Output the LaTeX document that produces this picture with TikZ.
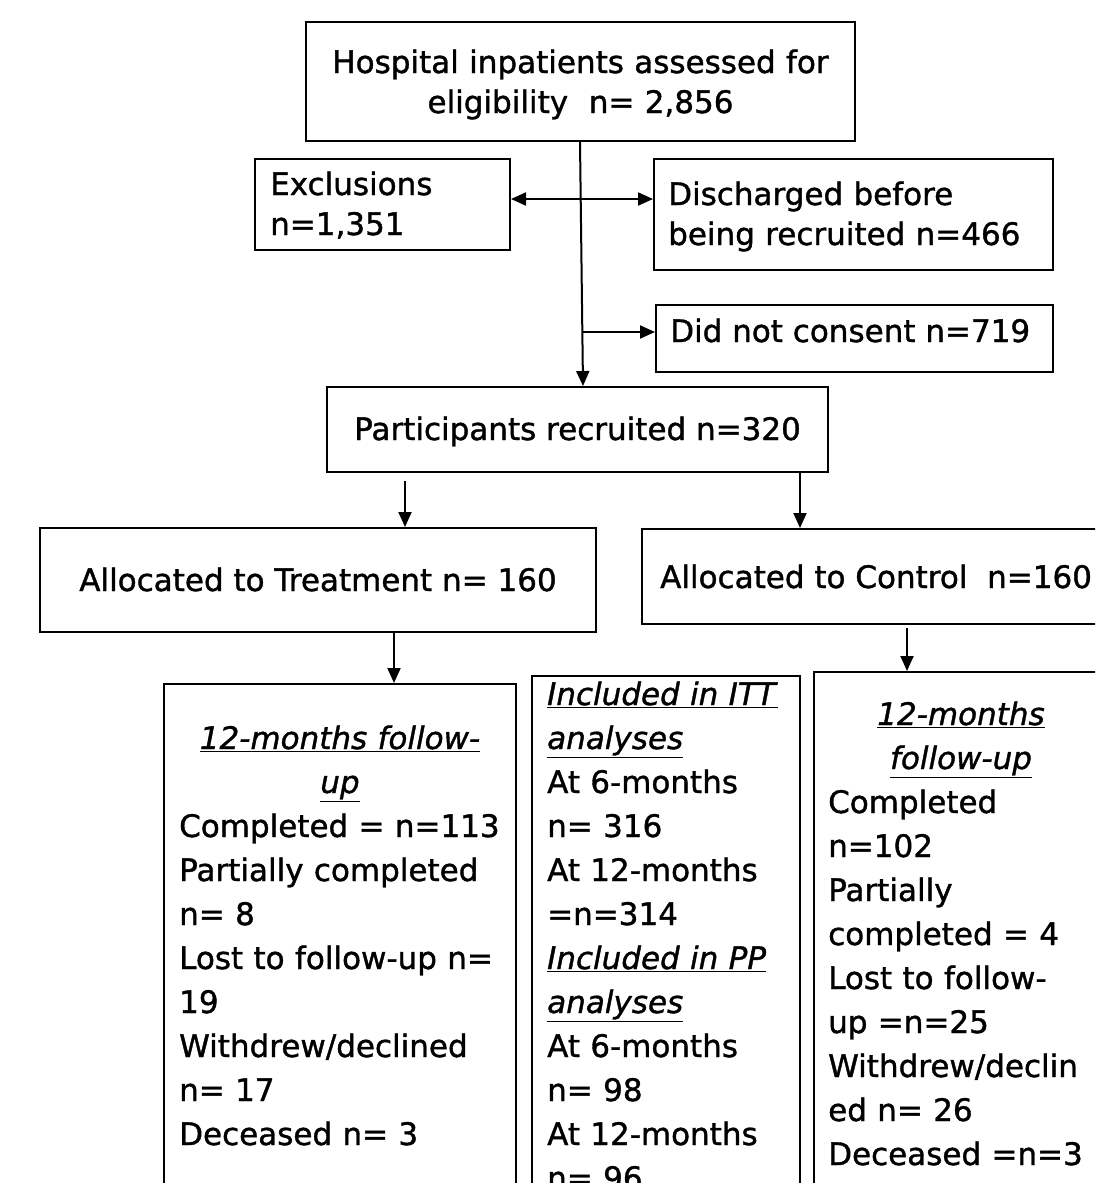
\documentclass[tikz,border=0pt]{standalone}
\usepackage{fontspec}
\setmainfont[FakeBold=1.2]{DejaVu Sans}
\usetikzlibrary{arrows.meta}
\begin{document}
\begin{tikzpicture}[x=1pt,y=-1pt,
  box/.style={draw, line width=2pt, inner sep=0pt},
  txt/.style={inner sep=0pt, font=\fontsize{31}{40}\selectfont},
  txtw/.style={inner sep=0pt, font=\fontsize{31}{44}\selectfont},
  tip/.tip={Triangle[length=15pt,width=13pt]},
  arr/.style={line width=2pt, -tip},
  arrtwo/.style={line width=2pt, tip-tip}]
\useasboundingbox (0,0) rectangle (1095,1183);
\clip (0,0) rectangle (1095,1183);
\fill[white] (0,0) rectangle (1095,1183);

% boxes
\node[box, minimum width=549pt, minimum height=119pt] (top) at (580.5,81.5) {};
\node[box, minimum width=255pt, minimum height=91pt] (excl) at (382.5,204.5) {};
\node[box, minimum width=399pt, minimum height=111pt] (disc) at (853.5,214.5) {};
\node[box, minimum width=397pt, minimum height=67pt] (cons) at (854.5,338.5) {};
\node[box, minimum width=501pt, minimum height=85pt] (part) at (577.5,429.5) {};
\node[box, minimum width=556pt, minimum height=104pt] (treat) at (318,580) {};
\node[box, minimum width=470pt, minimum height=95pt] (ctrl) at (877,576.5) {};
\node[box, minimum width=352pt, minimum height=536pt] (lbox) at (340,952) {};
\node[box, minimum width=268pt, minimum height=544pt] (mbox) at (666,948) {};
\node[box, minimum width=294pt, minimum height=548pt] (rbox) at (961,946) {};

% texts
\node[txt, anchor=base, text width=540pt, align=center] (topT) at (580.5,73)
  {Hospital inpatients assessed for\\eligibility\ \ n= 2,856};
\node[txt, anchor=base west, text width=235pt, align=left] (exclT) at (270,195)
  {Exclusions\\n=1,351};
\node[txt, anchor=base west, text width=380pt, align=left] (discT) at (668,205)
  {Discharged before\\being recruited n=466};
\node[txt, anchor=base west] (consT) at (670,342) {Did not consent n=719};
\node[txt, anchor=base] (partT) at (577.5,440) {Participants recruited n=320};
\node[txt, anchor=base] (treatT) at (318,591) {Allocated to Treatment n= 160};
\node[txt, anchor=base west] (ctrlT) at (660,588) {Allocated to Control\ \ n=160};

\node[txtw, anchor=base, text width=345pt, align=center] (lhead) at (340,749)
  {\underline{\textit{12-months follow-}}\\\underline{\textit{up}}};
\node[txtw, anchor=base west, text width=345pt, align=left] (lbody) at (179,837)
  {Completed = n=113\\Partially completed\\n= 8\\Lost to follow-up n=\\19\\Withdrew/declined\\n= 17\\Deceased n= 3};

\node[txtw, anchor=base west, text width=270pt, align=left] (mbody) at (547,705)
  {\underline{\textit{Included in ITT}}\\\underline{\textit{analyses}}\\At 6-months\\n= 316\\At 12-months\\=n=314\\\underline{\textit{Included in PP}}\\\underline{\textit{analyses}}\\At 6-months\\n= 98\\At 12-months\\n= 96};

\node[txtw, anchor=base, text width=290pt, align=center] (rhead) at (961,725)
  {\underline{\textit{12-months}}\\\underline{\textit{follow-up}}};
\node[txtw, anchor=base west, text width=300pt, align=left] (rbody) at (828,813)
  {Completed\\n=102\\Partially\\completed = 4\\Lost to follow-\\up =n=25\\Withdrew/declin\\ed n= 26\\Deceased =n=3};

% connectors
\coordinate (mA) at (580,141);
\coordinate (mB) at (583,387);
\draw[arr] (top.south -| mA) -- (part.north -| mB);
\coordinate (hA) at (0,199);
\draw[arrtwo] (excl.east |- hA) -- (disc.west |- hA);
\coordinate (hB) at (582,332);
\draw[arr] (hB) -- (cons.west |- hB);
\coordinate (tA) at (405,481);
\draw[arr] (tA) -- (treat.north -| tA);
\coordinate (cA) at (800,0);
\draw[arr] (part.south -| cA) -- (ctrl.north -| cA);
\coordinate (tB) at (394,0);
\draw[arr] (treat.south -| tB) -- (lbox.north -| tB);
\coordinate (cB) at (907,628);
\draw[arr] (cB) -- (rbox.north -| cB);
\end{tikzpicture}
\end{document}
